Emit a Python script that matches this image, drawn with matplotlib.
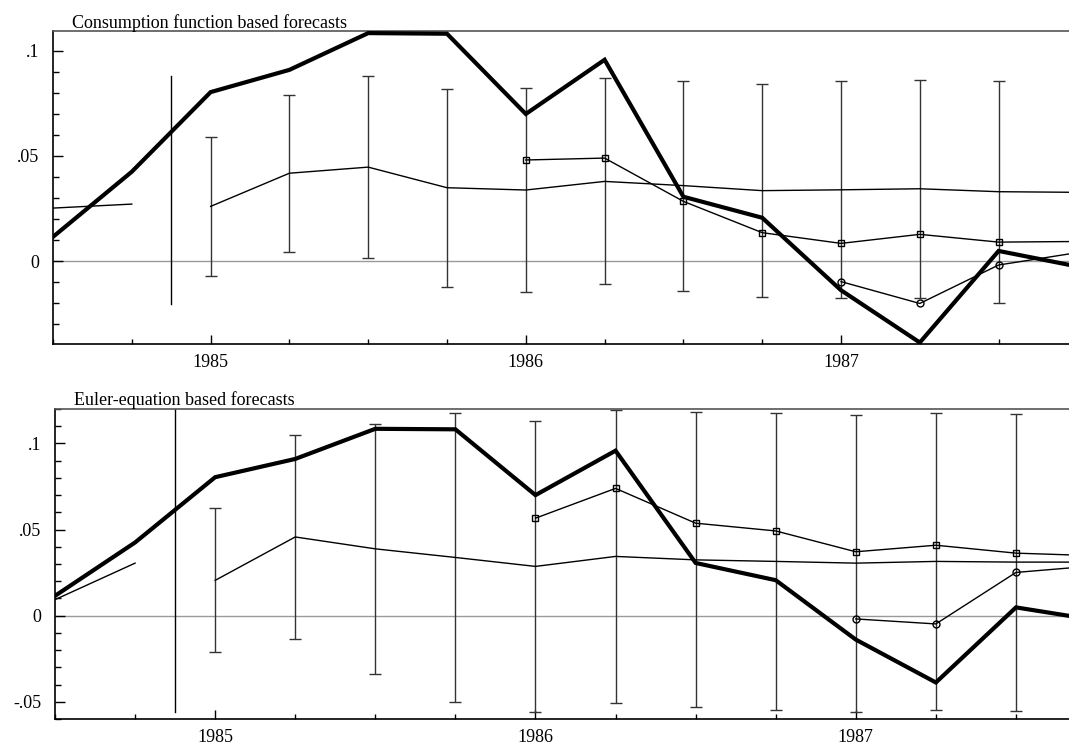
import numpy as np
import matplotlib
matplotlib.use("Agg")
import matplotlib.pyplot as plt

plt.rcParams['font.family'] = ['Liberation Serif', 'DejaVu Serif']

# ---------------- data (quarterly, 1984Q3 .. 1987Q4) ----------------
quarters = ['1984Q3', '1984Q4', '1985Q1', '1985Q2', '1985Q3', '1985Q4', '1986Q1',
            '1986Q2', '1986Q3', '1986Q4', '1987Q1', '1987Q2', '1987Q3', '1987Q4']
year_labels = ['1985', '1986', '1987']
year_quarters = ['1985Q1', '1986Q1', '1987Q1']

actual = [0.0115, 0.0425, 0.0804, 0.0910, 0.1085, 0.1082, 0.0700, 0.0958,
          0.0306, 0.0206, -0.0139, -0.0388, 0.0048, -0.0026]

# consumption function panel
cons_fit = [0.0252, 0.0271]                                   # 1984Q3-1984Q4
cons_fc = [0.0260, 0.0418, 0.0447, 0.0349, 0.0338, 0.0379, 0.0359,
           0.0335, 0.0339, 0.0344, 0.0330, 0.0327]            # 1985Q1-1987Q4
cons_err = [0.0329, 0.0374, 0.0434, 0.0472, 0.0486, 0.0490, 0.0500,
            0.0506, 0.0516, 0.0520, 0.0528]                   # 1985Q1-1987Q3
cons_sq = [0.0481, 0.0490, 0.0284, 0.0135, 0.0084, 0.0127, 0.0090, 0.0093]  # 1986Q1-
cons_circ = [-0.0098, -0.0202, -0.0019, 0.0040]               # 1987Q1-
cons_vline = (0.0881, -0.0205)

# Euler equation panel
euler_fit = [0.0093, 0.0305]
euler_fc = [0.0205, 0.0457, 0.0388, 0.0338, 0.0286, 0.0344, 0.0324,
            0.0315, 0.0305, 0.0315, 0.0311, 0.0311]
euler_err = [0.0418, 0.0592, 0.0727, 0.0837, 0.0843, 0.0850, 0.0856,
             0.0861, 0.0862, 0.0862, 0.0862]
euler_sq = [0.0566, 0.0739, 0.0537, 0.0492, 0.0371, 0.0409, 0.0363, 0.0348]
euler_circ = [-0.0019, -0.0048, 0.0251, 0.0290]
euler_vline = (0.12, -0.056)

forecast_origin = 1.5  # between 1984Q4 and 1985Q1

# ---------------- figure ----------------
W, H = 1069, 744
fig = plt.figure(figsize=(W / 100, H / 100), dpi=100)
fig.patch.set_facecolor('white')

idx = {q: i for i, q in enumerate(quarters)}
x_all = np.arange(len(quarters))
FS = 13


def make_panel(rect, ylim, yticks, yticklabels, title, title_xy,
               fit, fc, err, sq, circ, vline):
    ax = fig.add_axes(rect)
    ax.set_xlim(0, 13.5)
    ax.set_ylim(*ylim)
    # zero line
    ax.axhline(0, color='#9a9a9a', lw=1.0, zorder=1)
    # forecast origin line
    ax.plot([forecast_origin, forecast_origin], list(vline), color='black',
            lw=1.0, zorder=2, clip_on=True)
    # fitted values before forecast
    ax.plot(x_all[:len(fit)], fit, color='black', lw=1.0, zorder=3)
    # forecasts
    xf = x_all[2:2 + len(fc)]
    ax.plot(xf, fc, color='black', lw=1.0, zorder=3)
    xe = x_all[2:2 + len(err)]
    ax.errorbar(xe, fc[:len(err)], yerr=err, fmt='none', ecolor='#333333',
                elinewidth=1.0, capsize=4.5, capthick=1.0, zorder=2)
    # square-marked series
    xs = x_all[idx['1986Q1']:idx['1986Q1'] + len(sq)]
    ax.plot(xs, sq, color='black', lw=1.0, marker='s', markersize=5,
            markerfacecolor='none', markeredgecolor='black',
            markeredgewidth=1.0, zorder=4)
    # circle-marked series
    xc = x_all[idx['1987Q1']:idx['1987Q1'] + len(circ)]
    ax.plot(xc, circ, color='black', lw=1.0, marker='o', markersize=5,
            markerfacecolor='none', markeredgecolor='black',
            markeredgewidth=1.0, zorder=4)
    # actual
    ax.plot(x_all, actual, color='black', lw=3.0, zorder=5,
            solid_joinstyle='miter')

    # axes styling
    ax.spines['right'].set_visible(False)
    ax.spines['top'].set_color('#555555')
    ax.spines['top'].set_linewidth(1.2)
    for s in ('left', 'bottom'):
        ax.spines[s].set_color('black')
        ax.spines[s].set_linewidth(1.2)
    ax.set_xticks([idx[q] for q in year_quarters])
    ax.set_xticklabels(year_labels)
    ax.set_xticks(x_all, minor=True)
    ax.set_yticks(yticks)
    ax.set_yticklabels(yticklabels)
    lo = np.ceil(ylim[0] * 100 - 1e-9) / 100
    ax.set_yticks(np.arange(lo, ylim[1] + 1e-9, 0.01), minor=True)
    ax.tick_params(axis='x', which='major', direction='in', length=6.5,
                   width=1.0, pad=7, labelsize=FS, top=False)
    ax.tick_params(axis='x', which='minor', direction='in', length=3.5,
                   width=1.0, top=False)
    ax.tick_params(axis='y', which='major', direction='in', length=7.5,
                   width=1.0, pad=10, labelsize=FS, right=False)
    ax.tick_params(axis='y', which='minor', direction='in', length=4.5,
                   width=1.0, right=False)
    fig.text(title_xy[0] / W, 1 - title_xy[1] / H, title, fontsize=FS,
             ha='left', va='baseline')
    return ax


# top panel: x0=53px, top=31px, bottom=344px, 78.8 px per quarter
top_rect = [53 / W, 1 - 344 / H, 13.5 * 78.8 / W, 313 / H]
make_panel(top_rect, (-0.0395, 0.1095), [0, 0.05, 0.1], ['0', '.05', '.1'],
           'Consumption function based forecasts', (72, 28),
           cons_fit, cons_fc, cons_err, cons_sq, cons_circ, cons_vline)

# bottom panel: x0=55px, top=409px, bottom=719px, 80.08 px per quarter
bot_rect = [55 / W, 1 - 719 / H, 13.5 * 80.08 / W, 310 / H]
make_panel(bot_rect, (-0.06, 0.12), [-0.05, 0, 0.05, 0.1],
           ['-.05', '0', '.05', '.1'],
           'Euler-equation based forecasts', (74, 405),
           euler_fit, euler_fc, euler_err, euler_sq, euler_circ, euler_vline)

fig.savefig('out.png', dpi=100, facecolor='white')
